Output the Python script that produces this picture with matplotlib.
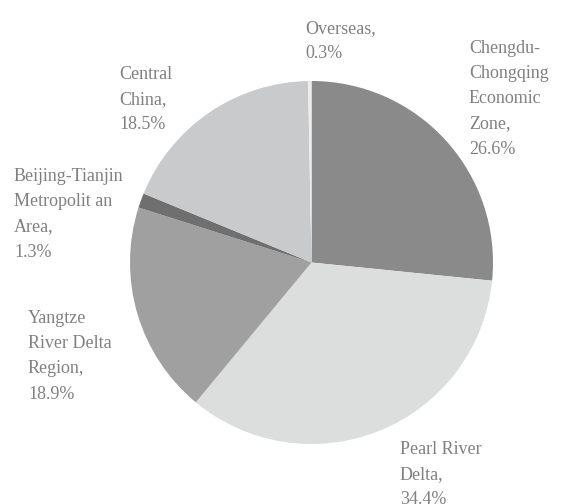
import matplotlib.pyplot as plt

# regional share of sales, clockwise from 12 o'clock
regions = ['Chengdu-\nChongqing\nEconomic\nZone', 'Pearl River\nDelta',
           'Yangtze\nRiver Delta\nRegion', 'Beijing-Tianjin\nMetropolit an\nArea',
           'Central\nChina', 'Overseas']
shares = [26.6, 34.4, 18.9, 1.3, 18.5, 0.3]
colors = ['#8a8a8a', '#dcdddd', '#a0a0a0', '#6f6f6f', '#c9cacb', '#ededed']

# where each label starts (left edge, first baseline) in pixels from top-left
label_pos = [(469, 52), (400, 453), (28, 322), (14, 180), (119, 78), (305, 32)]

W, H = 566, 504
fig = plt.figure(figsize=(W / 100, H / 100), dpi=100)
ax = fig.add_axes([0, 0, 1, 1])

ax.pie(shares, colors=colors, startangle=90, counterclock=False,
       center=(311.5, H - 262.5), radius=181.5, frame=True,
       wedgeprops={'linewidth': 0})
ax.set_xlim(0, W)
ax.set_ylim(0, H)
ax.set_aspect('equal')
ax.axis('off')

for name, val, (x, y) in zip(regions, shares, label_pos):
    ax.text(x, H - y + 12, f'{name},\n{val}%', ha='left', va='top',
            family='Liberation Serif', fontsize=13, color='#808080',
            linespacing=1.63)

fig.savefig('out.png', dpi=100)
